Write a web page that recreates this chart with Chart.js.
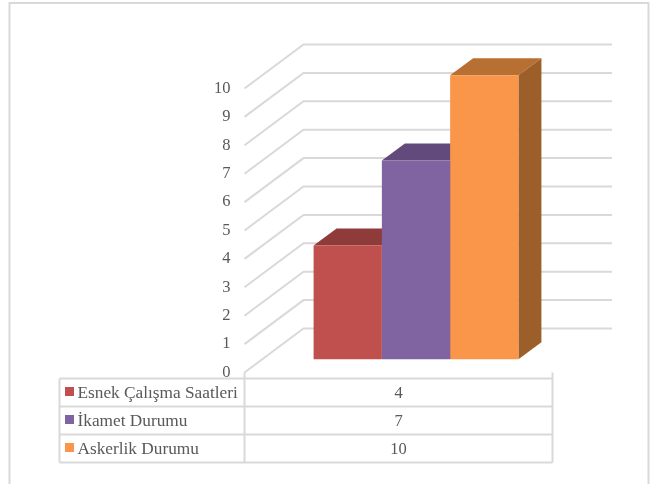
<!DOCTYPE html>
<html>
<head>
<meta charset="utf-8">
<style>
    html, body { margin: 0; padding: 0; background: #fff; overflow: hidden; }
    canvas { display: block; }
</style>
</head>
<body>
<canvas id="barChart" width="652" height="484"></canvas>
<script src="https://cdn.jsdelivr.net/npm/chart.js"></script>
<script>
    // Values
    const categories = [''];
    const seriesNames = ['Esnek Çalışma Saatleri', 'İkamet Durumu', 'Askerlik Durumu'];
    const seriesValues = [[4], [7], [10]];
    const frontColors = ['#C0504D', '#8064A2', '#F9964A'];
    const topColors = ['#8F3B39', '#634A7C', '#B86F32'];
    const sideColors = ['#7A3230', '#553F6B', '#9C5F2A'];
    const axisTicks = [0, 1, 2, 3, 4, 5, 6, 7, 8, 9, 10];

    const gridColor = '#d9d9d9';
    const textColor = '#595959';
    const fontFamily = '"Liberation Serif", serif';
    const fontSize = 16.5;
    const nameFontSize = 17.3;

    // 3D look: depth of the walls and of the bars, and where the bars stand on the floor
    const wallDepth = { x: 59, y: 44 };
    const barDepth = { x: 23, y: 17 };
    const barShift = { x: 17.5, y: -13.3 };
    const gridRight = 612;

    // Data table below the plot
    const tableLeft = 59.5;
    const tableRows = [378.5, 406.5, 434.5, 462.5];

    const wallPlugin = {
        id: 'wall',
        beforeDatasetsDraw(chart) {
            const ctx = chart.ctx;
            const y = chart.scales.y;
            const left = chart.chartArea.left;

            ctx.save();
            ctx.strokeStyle = gridColor;
            ctx.lineWidth = 2;
            axisTicks.forEach(function (t) {
                const py = y.getPixelForValue(t);
                ctx.beginPath();
                ctx.moveTo(left, py);
                ctx.lineTo(left + wallDepth.x, py - wallDepth.y);
                ctx.lineTo(gridRight, py - wallDepth.y);
                ctx.stroke();
            });
            ctx.restore();

            // top and side faces, the fronts are the library's own bars
            ctx.save();
            ctx.translate(barShift.x, barShift.y);
            chart.data.datasets.forEach(function (ds, i) {
                const bar = chart.getDatasetMeta(i).data[0];
                const l = bar.x - bar.width / 2;
                const r = bar.x + bar.width / 2;

                ctx.fillStyle = topColors[i];
                ctx.beginPath();
                ctx.moveTo(l, bar.y);
                ctx.lineTo(l + barDepth.x, bar.y - barDepth.y);
                ctx.lineTo(r + barDepth.x, bar.y - barDepth.y);
                ctx.lineTo(r, bar.y);
                ctx.closePath();
                ctx.fill();

                ctx.fillStyle = sideColors[i];
                ctx.beginPath();
                ctx.moveTo(r, bar.y);
                ctx.lineTo(r + barDepth.x, bar.y - barDepth.y);
                ctx.lineTo(r + barDepth.x, bar.base - barDepth.y);
                ctx.lineTo(r, bar.base);
                ctx.closePath();
                ctx.fill();
            });
            // stays on for the bars, undone in afterDatasetsDraw
            ctx.restore();
            ctx.save();
            ctx.translate(barShift.x, barShift.y);
        },
        afterDatasetsDraw(chart) {
            chart.ctx.restore();
        },
        afterDraw(chart) {
            const ctx = chart.ctx;
            const area = chart.chartArea;
            const center = chart.scales.x.getPixelForValue(0);

            ctx.save();

            // outer frame of the picture
            ctx.strokeStyle = gridColor;
            ctx.lineWidth = 2;
            ctx.strokeRect(9.5, 3, 639, 490);

            // table lines
            ctx.beginPath();
            tableRows.forEach(function (py) {
                ctx.moveTo(tableLeft, py);
                ctx.lineTo(area.right, py);
            });
            ctx.moveTo(tableLeft, tableRows[0]);
            ctx.lineTo(tableLeft, tableRows[3]);
            ctx.moveTo(area.left, area.bottom);
            ctx.lineTo(area.left, tableRows[3]);
            ctx.moveTo(area.right, area.bottom);
            ctx.lineTo(area.right, tableRows[3]);
            ctx.stroke();

            // table rows: legend key, series name, value
            ctx.textBaseline = 'alphabetic';
            seriesNames.forEach(function (name, i) {
                const base = tableRows[i] + 19;
                ctx.fillStyle = frontColors[i];
                ctx.fillRect(65, tableRows[i] + 8.5, 9, 9);
                ctx.fillStyle = textColor;
                ctx.textAlign = 'left';
                ctx.font = nameFontSize + 'px ' + fontFamily;
                ctx.fillText(name, 77.5, base);
                ctx.textAlign = 'center';
                ctx.font = fontSize + 'px ' + fontFamily;
                ctx.fillText(String(seriesValues[i][0]), center, base);
            });
            ctx.restore();
        }
    };

    const barChart = new Chart(document.getElementById('barChart').getContext('2d'), {
        type: 'bar',
        data: {
            labels: categories,
            datasets: seriesNames.map(function (name, i) {
                return {
                    label: name,
                    data: seriesValues[i],
                    backgroundColor: frontColors[i],
                    borderWidth: 0,
                    categoryPercentage: 0.665,
                    barPercentage: 1,
                    clip: false
                };
            })
        },
        options: {
            responsive: false,
            animation: false,
            layout: {
                padding: { left: 0, top: 88.5, right: 99.5, bottom: 111.5 }
            },
            scales: {
                x: { display: false },
                y: {
                    min: 0,
                    max: 10,
                    afterFit(scale) { scale.width = 244.5; },
                    afterBuildTicks(scale) {
                        scale.ticks = axisTicks.map(function (v) { return { value: v }; });
                    },
                    grid: { display: false, drawTicks: false },
                    border: { display: false },
                    ticks: {
                        color: textColor,
                        padding: 14,
                        font: { family: fontFamily, size: fontSize }
                    }
                }
            },
            plugins: {
                legend: { display: false },
                tooltip: { enabled: false }
            }
        },
        plugins: [wallPlugin]
    });
</script>
</body>
</html>
